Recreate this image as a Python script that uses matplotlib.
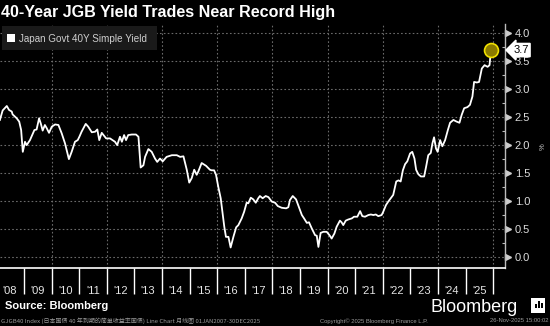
import matplotlib
matplotlib.use("Agg")
import matplotlib.pyplot as plt
import matplotlib.transforms as mtransforms
import numpy as np

# ---------------- data (decimal year, yield %) ----------------
dates = [
    2008.13, 2008.23, 2008.38, 2008.46, 2008.56, 2008.59, 2008.74, 2008.83, 2008.90, 2008.96,
    2009.04, 2009.10, 2009.22, 2009.38, 2009.46, 2009.55, 2009.61, 2009.68, 2009.76, 2009.83,
    2009.91, 2010.01, 2010.13, 2010.25, 2010.37, 2010.49, 2010.63, 2010.73, 2010.85, 2010.95,
    2011.01, 2011.09, 2011.24, 2011.33, 2011.46, 2011.58, 2011.66, 2011.73, 2011.82, 2011.98,
    2012.12, 2012.18, 2012.30, 2012.38, 2012.48, 2012.55, 2012.63, 2012.70, 2012.78, 2012.91,
    2013.06, 2013.15, 2013.23, 2013.33, 2013.39, 2013.51, 2013.63, 2013.75, 2013.83, 2013.93,
    2014.03, 2014.17, 2014.36, 2014.54, 2014.66, 2014.78, 2014.90, 2014.99, 2015.08, 2015.17,
    2015.26, 2015.32, 2015.44, 2015.60, 2015.74, 2015.80, 2015.89, 2015.96, 2016.04, 2016.13,
    2016.20, 2016.26, 2016.32, 2016.41, 2016.49, 2016.59, 2016.69, 2016.77, 2016.89, 2016.98,
    2017.07, 2017.13, 2017.22, 2017.31, 2017.40, 2017.49, 2017.55, 2017.65, 2017.76, 2017.86,
    2017.98, 2018.10, 2018.20, 2018.34, 2018.50, 2018.58, 2018.64, 2018.74, 2018.86, 2018.98,
    2019.07, 2019.15, 2019.25, 2019.33, 2019.43, 2019.55, 2019.61, 2019.67, 2019.75, 2019.85,
    2019.97, 2020.07, 2020.15, 2020.25, 2020.33, 2020.45, 2020.51, 2020.57, 2020.66, 2020.75,
    2020.88, 2020.96, 2021.08, 2021.18, 2021.26, 2021.36, 2021.48, 2021.57, 2021.66, 2021.75,
    2021.84, 2021.96, 2022.02, 2022.12, 2022.20, 2022.29, 2022.38, 2022.49, 2022.57, 2022.65,
    2022.73, 2022.81, 2022.89, 2022.99, 2023.07, 2023.15, 2023.21, 2023.29, 2023.38, 2023.50,
    2023.57, 2023.65, 2023.74, 2023.80, 2023.86, 2023.93, 2023.99, 2024.08, 2024.16, 2024.26,
    2024.36, 2024.44, 2024.56, 2024.68, 2024.78, 2024.86, 2024.95, 2025.07, 2025.16, 2025.25,
    2025.31, 2025.41, 2025.49, 2025.59, 2025.69, 2025.80, 2025.87, 2025.92,
]
yields = [
    2.45, 2.62, 2.70, 2.63, 2.60, 2.55, 2.48, 2.42, 2.27, 1.88,
    2.06, 2.00, 2.09, 2.27, 2.28, 2.48, 2.39, 2.26, 2.36, 2.30,
    2.22, 2.33, 2.37, 2.36, 2.21, 2.03, 1.75, 1.88, 2.06, 2.09,
    2.15, 2.24, 2.38, 2.33, 2.23, 2.24, 2.28, 2.09, 2.22, 2.12,
    2.12, 2.10, 2.06, 2.00, 2.15, 2.06, 2.18, 2.09, 2.18, 2.19,
    2.19, 2.15, 1.60, 1.64, 1.79, 1.93, 1.88, 1.76, 1.70, 1.76,
    1.71, 1.79, 1.82, 1.82, 1.79, 1.80, 1.56, 1.33, 1.41, 1.56,
    1.47, 1.53, 1.68, 1.63, 1.56, 1.55, 1.55, 1.47, 1.26, 1.05,
    0.78, 0.54, 0.36, 0.36, 0.17, 0.36, 0.53, 0.57, 0.69, 0.81,
    0.97, 0.96, 1.06, 1.03, 0.97, 1.05, 1.09, 1.05, 1.09, 1.07,
    0.99, 0.97, 0.91, 0.88, 0.87, 0.89, 1.02, 1.09, 1.03, 0.87,
    0.75, 0.69, 0.61, 0.62, 0.51, 0.39, 0.38, 0.18, 0.43, 0.45,
    0.45, 0.39, 0.33, 0.42, 0.54, 0.65, 0.62, 0.57, 0.65, 0.67,
    0.69, 0.72, 0.72, 0.82, 0.73, 0.72, 0.75, 0.76, 0.75, 0.76,
    0.73, 0.75, 0.81, 0.93, 0.99, 1.05, 1.11, 1.35, 1.37, 1.35,
    1.55, 1.66, 1.71, 1.85, 1.88, 1.76, 1.56, 1.48, 1.44, 1.44,
    1.61, 1.82, 1.86, 2.03, 2.14, 1.94, 1.88, 2.09, 1.98, 2.09,
    2.27, 2.40, 2.45, 2.42, 2.40, 2.54, 2.66, 2.68, 2.72, 2.87,
    3.13, 3.12, 3.13, 3.37, 3.43, 3.40, 3.43, 3.70,
]
years = list(range(2008, 2026))
year_labels = ["'%02d" % (y % 100) for y in years]
y_ticks = [0.0, 0.5, 1.0, 1.5, 2.0, 2.5, 3.0, 3.5, 4.0]
last_label = "3.7"

title = "40-Year JGB Yield Trades Near Record High"
legend_label = "Japan Govt 40Y Simple Yield"

# ---------------- figure ----------------
W, H = 550, 326
fig = plt.figure(figsize=(W / 100, H / 100), dpi=100, facecolor="black")
FONT = ["Liberation Sans", "DejaVu Sans"]
plt.rcParams["font.family"] = FONT

left_px, right_px, top_px, bot_px = 0, 505, 24, 268
ax = fig.add_axes([left_px / W, 1 - bot_px / H, (right_px - left_px) / W, (bot_px - top_px) / H])
ax.set_facecolor("black")

ax.plot(dates, yields, color="white", lw=1.3, solid_joinstyle="round", zorder=3)
ax.plot([dates[-1]], [yields[-1]], marker="o", ms=10, mfc="#8a7a00", mec="#f0e000",
        mew=1.2, ls="none", zorder=4)

ax.set_xlim(2008.134, 2026.43)
ax.set_ylim(-0.197, 4.166)

# grid
for gx in range(2010, 2027, 2):
    ax.axvline(gx, color="#6a6a6a", lw=0.8, ls=(0, (1.5, 2.0)), zorder=1)
for gy in y_ticks:
    ax.axhline(gy, color="#6a6a6a", lw=0.8, ls=(0, (1.5, 2.0)), zorder=1)

for s in ["top", "left"]:
    ax.spines[s].set_visible(False)
ax.spines["bottom"].set_color("white")
ax.spines["bottom"].set_linewidth(1.2)
ax.spines["right"].set_color("#bbbbbb")
ax.spines["right"].set_linewidth(1.0)

# y axis on right
ax.yaxis.tick_right()
ax.set_yticks(y_ticks)
ax.set_yticklabels(["%.1f" % v for v in y_ticks])
ax.set_yticks(np.arange(0.25, 4.0, 0.5), minor=True)
ax.tick_params(axis="y", which="major", length=0, pad=7, colors="#dcdcdc", labelsize=8)
ax.tick_params(axis="y", which="minor", direction="in", length=2.5, color="#bbbbbb", width=0.8)
trans = mtransforms.blended_transform_factory(ax.transAxes, ax.transData)
ax.plot([1.006] * len(y_ticks), y_ticks, marker=">", ms=4, color="#cccccc", ls="none",
        transform=trans, clip_on=False)

# x axis: year separators as minor ticks, labels at mid-year
ax.set_xticks([y + 0.5 for y in years])
ax.set_xticklabels(year_labels)
ax.set_xticks(list(range(2009, 2027)), minor=True)
ax.tick_params(axis="x", which="major", length=0, pad=13, colors="#e6e6e6", labelsize=8)
ax.tick_params(axis="x", which="minor", direction="out", length=19, width=1.0, color="white")

# % label
fig.text(543 / W, 1 - 147 / H, "%", color="#cccccc", fontsize=5.5, rotation=90,
         ha="center", va="center")

# last value label
ax.annotate(last_label, xy=(1.016, 3.7), xycoords=trans, ha="left", va="center",
            fontsize=8, color="black", annotation_clip=False,
            bbox=dict(boxstyle="larrow,pad=0.15", fc="white", ec="white"))

# title
fig.text(1 / W, 1 - 12 / H, title, color="white", fontsize=11.6, fontweight="bold",
         ha="left", va="center")

# legend box
leg = plt.Rectangle((2 / W, 1 - 50 / H), 155 / W, 24 / H, transform=fig.transFigure,
                    facecolor="#1a1a1a", edgecolor="none", zorder=5)
fig.add_artist(leg)
sq = plt.Rectangle((7 / W, 1 - 42 / H), 8 / W, 8 / H, transform=fig.transFigure,
                   facecolor="white", edgecolor="none", zorder=6)
fig.add_artist(sq)
fig.text(19 / W, 1 - 38.5 / H, legend_label, color="#cfcfcf", fontsize=7.1,
         ha="left", va="center", zorder=7)

# source and brand
fig.text(5 / W, 1 - 306 / H, "Source: Bloomberg", color="white", fontsize=8,
         fontweight="bold", ha="left", va="center")
fig.text(431 / W, 1 - 312 / H, "Bloomberg", color="white", fontsize=13,
         ha="left", va="baseline")
icon = plt.Rectangle((531 / W, 1 - 313 / H), 14 / W, 15 / H, transform=fig.transFigure,
                     facecolor="white", edgecolor="none")
fig.add_artist(icon)
for bx, bh in [(534.5, 4), (537.5, 7), (540.5, 5)]:
    fig.add_artist(plt.Rectangle((bx / W, 1 - 308 / H), 2 / W, bh / H,
                                 transform=fig.transFigure, facecolor="black",
                                 edgecolor="none"))

# footer
foot_font = ["Noto Sans CJK SC", "DejaVu Sans"]
fig.text(1 / W, 1 - 321 / H,
         "GJGB40 Index (日本国债 40 年到期的简单收益率国债) Line Chart 月线图 01JAN2007-30DEC2025",
         color="#9a9a9a", fontsize=4.3, ha="left", va="center", family=foot_font)
fig.text(320 / W, 1 - 321 / H, "Copyright© 2025 Bloomberg Finance L.P.",
         color="#9a9a9a", fontsize=4.2, ha="left", va="center")
fig.text(548 / W, 1 - 321 / H, "26-Nov-2025 15:00:02",
         color="#9a9a9a", fontsize=4.2, ha="right", va="center")

fig.savefig("out.png", dpi=100, facecolor="black")
